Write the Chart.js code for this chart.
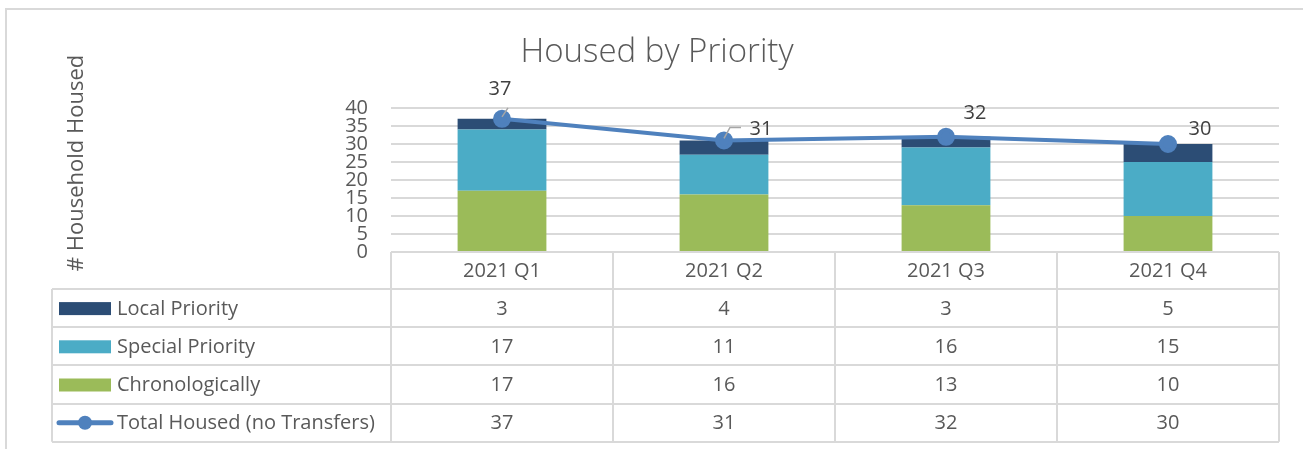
<!DOCTYPE html>
<html>
<head>
<meta charset="utf-8">
<title>Housed by Priority</title>
<script src="https://cdn.jsdelivr.net/npm/chart.js@4.4.1/dist/chart.umd.min.js"></script>
<style>
  html, body { margin: 0; padding: 0; background: #fff; }
  #chart { display: block; }
</style>
</head>
<body>
<canvas id="chart" width="1303" height="449"></canvas>
<script>
const quarters = ['2021 Q1', '2021 Q2', '2021 Q3', '2021 Q4'];
const localPriority = [3, 4, 3, 5];
const specialPriority = [17, 11, 16, 15];
const chronologically = [17, 16, 13, 10];
const totalHoused = [37, 31, 32, 30];
const yTicks = [0, 5, 10, 15, 20, 25, 30, 35, 40];

const FONT = '"Open Sans", "Segoe UI", sans-serif';
const TEXT = '#595959';
const GRID = '#d9d9d9';

// offsets of the total labels from their points
const labelOffsets = [[-2, -30], [37, -11], [29, -24], [32, -15]];

// table under the plot: category header, legend column and values
const dataTable = {
    id: 'dataTable',
    afterDraw(chart) {
        const c = chart.ctx;
        const area = chart.chartArea;
        const x = chart.scales.x;
        const half = (x.getPixelForValue(1) - x.getPixelForValue(0)) / 2;
        const tableLeft = 52;
        const headTop = area.bottom;
        const rowH = 38.2;
        const headH = 37;
        const rows = chart.data.datasets.map(d => d).sort((a, b) => a.tableRow - b.tableRow);
        const bottom = headTop + headH + rows.length * rowH;

        c.save();
        c.strokeStyle = GRID;
        c.lineWidth = 2;
        c.beginPath();
        c.moveTo(area.left, headTop); c.lineTo(area.right, headTop);
        for (let r = 0; r <= rows.length; r++) {
            const y = Math.round(headTop + headH + r * rowH);
            c.moveTo(tableLeft, y); c.lineTo(area.right, y);
        }
        quarters.forEach((q, i) => {
            const xl = x.getPixelForValue(i) - half;
            c.moveTo(xl, headTop); c.lineTo(xl, bottom);
        });
        c.moveTo(area.right, headTop); c.lineTo(area.right, bottom);
        c.moveTo(tableLeft, headTop + headH); c.lineTo(tableLeft, bottom);
        c.stroke();

        c.fillStyle = TEXT;
        c.font = '20px ' + FONT;
        c.textAlign = 'center';
        c.textBaseline = 'middle';
        quarters.forEach((q, i) => c.fillText(q, x.getPixelForValue(i), headTop + headH / 2 + 1));

        rows.forEach((ds, r) => {
            const yc = headTop + headH + r * rowH + rowH / 2 + 1;
            if (ds.type === 'line') {
                c.strokeStyle = ds.borderColor;
                c.lineWidth = 5;
                c.lineCap = 'round';
                c.beginPath();
                c.moveTo(59, yc - 1); c.lineTo(111, yc - 1);
                c.stroke();
                c.fillStyle = ds.borderColor;
                c.beginPath();
                c.arc(85, yc - 1, 7, 0, Math.PI * 2);
                c.fill();
            } else {
                c.fillStyle = ds.backgroundColor;
                c.fillRect(59, yc - 7, 52, 13);
            }
            c.fillStyle = TEXT;
            c.textAlign = 'left';
            c.fillText(ds.label, 117, yc);
            c.textAlign = 'center';
            ds.data.forEach((v, i) => c.fillText(String(v), x.getPixelForValue(i), yc));
        });
        c.restore();
    }
};

// title, axis title, frame and the total labels
const decorations = {
    id: 'decorations',
    afterDraw(chart) {
        const c = chart.ctx;
        c.save();
        c.strokeStyle = GRID;
        c.lineWidth = 2;
        c.beginPath();
        c.moveTo(6, chart.height); c.lineTo(6, 9); c.lineTo(chart.width, 9);
        c.stroke();

        c.fillStyle = TEXT;
        c.textAlign = 'center';
        c.textBaseline = 'middle';
        c.font = '300 33px ' + FONT;
        c.fillText('Housed by Priority', 657, 53);

        c.save();
        c.translate(77, 163);
        c.rotate(-Math.PI / 2);
        c.font = '22px ' + FONT;
        c.fillText('# Household Housed', 0, 0);
        c.restore();

        const meta = chart.getDatasetMeta(0);
        c.font = '20px ' + FONT;
        c.fillStyle = '#404040';
        c.strokeStyle = '#a6a6a6';
        c.lineWidth = 1.5;
        meta.data.forEach((pt, i) => {
            const [dx, dy] = labelOffsets[i];
            c.fillText(String(totalHoused[i]), pt.x + dx, pt.y + dy);
        });
        // leader lines for the first two labels
        const p0 = meta.data[0], p1 = meta.data[1];
        c.beginPath();
        c.moveTo(p0.x + 6, p0.y - 11); c.lineTo(p0.x, p0.y - 2);
        c.moveTo(p1.x + 17, p1.y - 13); c.lineTo(p1.x + 6, p1.y - 13); c.lineTo(p1.x, p1.y - 2);
        c.stroke();
        c.restore();
    }
};

new Chart(document.getElementById('chart'), {
    data: {
        labels: quarters,
        datasets: [
            {
                type: 'line',
                label: 'Total Housed (no Transfers)',
                data: totalHoused,
                borderColor: '#4f81bd',
                backgroundColor: '#4f81bd',
                borderWidth: 4,
                pointRadius: 7,
                pointHoverRadius: 7,
                order: 0,
                tableRow: 3
            },
            {
                type: 'bar',
                label: 'Chronologically',
                data: chronologically,
                backgroundColor: '#9bbb59',
                order: 1,
                tableRow: 2
            },
            {
                type: 'bar',
                label: 'Special Priority',
                data: specialPriority,
                backgroundColor: '#4bacc6',
                order: 1,
                tableRow: 1
            },
            {
                type: 'bar',
                label: 'Local Priority',
                data: localPriority,
                backgroundColor: '#2c4d75',
                order: 1,
                tableRow: 0
            }
        ]
    },
    options: {
        responsive: false,
        animation: false,
        layout: { padding: { left: 331, right: 24, top: 108, bottom: 197 } },
        datasets: { bar: { categoryPercentage: 1, barPercentage: 0.4 } },
        plugins: {
            legend: { display: false },
            title: { display: false },
            tooltip: { enabled: false }
        },
        scales: {
            x: { display: false, stacked: true },
            y: {
                stacked: true,
                min: 0,
                max: 40,
                afterFit(s) { s.width = 60; },
                afterBuildTicks(s) { s.ticks = yTicks.map(v => ({ value: v })); },
                border: { display: false },
                grid: { color: GRID, lineWidth: 2, drawTicks: false },
                ticks: {
                    autoSkip: false,
                    padding: 23,
                    color: TEXT,
                    font: { family: FONT, size: 20 }
                }
            }
        }
    },
    plugins: [dataTable, decorations]
});
</script>
</body>
</html>
